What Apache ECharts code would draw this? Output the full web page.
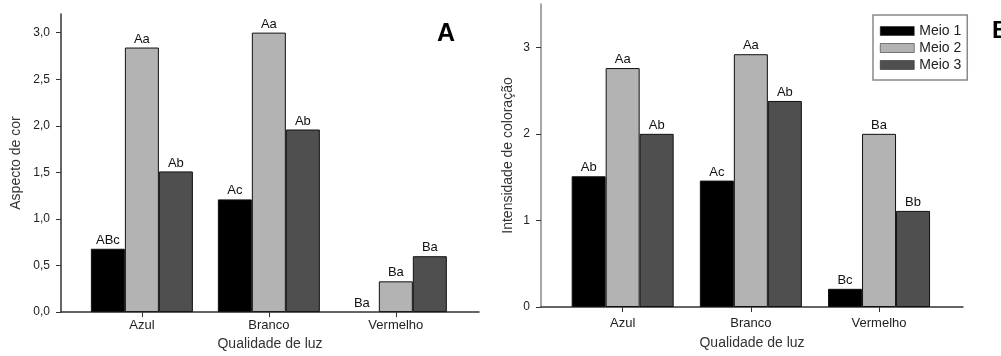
<!DOCTYPE html>
<html>
<head>
<meta charset="utf-8">
<script src="https://cdn.jsdelivr.net/npm/echarts@6/dist/echarts.min.js"></script>
<style>
  html, body { margin: 0; padding: 0; background: #fff; }
  #chart { width: 1001px; height: 356px; }
</style>
</head>
<body>
<div id="chart"></div>
<script>
// categories (light quality) and their positions on the x axis
var categories = ['Azul', 'Branco', 'Vermelho'];
var catPos = [1, 2, 3];
var seriesNames = ['Meio 1', 'Meio 2', 'Meio 3'];

// A: Aspecto de cor
var aMeio1 = [0.68, 1.21, 0];
var aMeio2 = [2.84, 3.0, 0.33];
var aMeio3 = [1.51, 1.96, 0.6];
var aLetters1 = ['ABc', 'Ac', 'Ba'];
var aLetters2 = ['Aa', 'Aa', 'Ba'];
var aLetters3 = ['Ab', 'Ab', 'Ba'];
var aTicks = [0, 0.5, 1, 1.5, 2, 2.5, 3];

// B: Intensidade de coloracao
var bMeio1 = [1.51, 1.46, 0.21];
var bMeio2 = [2.76, 2.92, 2.0];
var bMeio3 = [2.0, 2.38, 1.11];
var bLetters1 = ['Ab', 'Ac', 'Bc'];
var bLetters2 = ['Aa', 'Aa', 'Ba'];
var bLetters3 = ['Ab', 'Ab', 'Bb'];
var bTicks = [0, 1, 2, 3];

var colors = ['#000000', '#b3b3b3', '#4f4f4f'];
var font = '"Liberation Sans", Arial, sans-serif';

// zero-height bars get no outline (nothing drawn in the original)
var pairs = function (vals) {
    return vals.map(function (v, i) {
        var d = { value: [catPos[i], v] };
        if (v === 0) d.itemStyle = { borderWidth: 0 };
        return d;
    });
};

var makeBar = function (name, idx, vals, letters, axisIdx) {
    return {
        name: name,
        type: 'bar',
        xAxisIndex: axisIdx,
        yAxisIndex: axisIdx,
        barWidth: 34,
        barGap: '0%',
        data: pairs(vals),
        itemStyle: {
            color: colors[idx],
            borderColor: '#111',
            borderWidth: 1
        },
        label: {
            show: true,
            position: 'top',
            distance: 2,
            fontFamily: font,
            fontSize: 13,
            color: '#111',
            formatter: function (p) { return letters[p.dataIndex]; }
        }
    };
};

var xAxisOf = function (gridIdx, labelMargin, nameGap) {
    return {
        type: 'value',
        gridIndex: gridIdx,
        min: 0.363,
        max: 3.655,
        name: 'Qualidade de luz',
        nameLocation: 'middle',
        nameGap: nameGap,
        nameTextStyle: { fontFamily: font, fontSize: 14, color: '#333' },
        splitLine: { show: false },
        axisLine: { show: true, lineStyle: { color: '#333', width: 1.5 } },
        axisTick: { show: true, customValues: catPos, length: 5, lineStyle: { color: '#333' } },
        axisLabel: {
            customValues: catPos,
            margin: labelMargin,
            fontFamily: font,
            fontSize: 13,
            color: '#222',
            formatter: function (v) { return categories[catPos.indexOf(v)]; }
        }
    };
};

var yAxisOf = function (gridIdx, name, max, ticks, fmt, nameGap, lineColor) {
    return {
        type: 'value',
        gridIndex: gridIdx,
        min: 0,
        max: max,
        name: name,
        nameLocation: 'middle',
        nameGap: nameGap,
        nameTextStyle: { fontFamily: font, fontSize: 14, color: '#333' },
        splitLine: { show: false },
        axisLine: { show: true, lineStyle: { color: lineColor, width: 1.5 } },
        axisTick: { show: true, customValues: ticks, length: 5, lineStyle: { color: '#333' } },
        axisLabel: {
            customValues: ticks,
            margin: 11,
            fontFamily: font,
            fontSize: 12,
            color: '#222',
            formatter: fmt
        }
    };
};

var chart = echarts.init(document.getElementById('chart'));
chart.setOption({
    animation: false,
    title: [
        { text: 'A', left: 432, top: 17, textStyle: { fontFamily: font, fontSize: 25, fontWeight: 'bold', color: '#000' } },
        { text: 'B', left: 987, top: 14, textStyle: { fontFamily: font, fontSize: 24, fontWeight: 'bold', color: '#000' } }
    ],
    legend: {
        data: seriesNames,
        orient: 'vertical',
        left: 873,
        top: 15,
        itemWidth: 34,
        itemHeight: 9,
        itemGap: 3,
        padding: [9, 6, 8, 7],
        icon: 'rect',
        borderColor: '#888',
        borderWidth: 1.5,
        itemStyle: { borderColor: '#111', borderWidth: 0.5 },
        textStyle: { fontFamily: font, fontSize: 14, color: '#222' }
    },
    grid: [
        { left: 61, top: 14, width: 418, height: 300 },
        { left: 541, top: 4, width: 422, height: 303 }
    ],
    xAxis: [
        xAxisOf(0, 7, 24),
        xAxisOf(1, 10, 29)
    ],
    yAxis: [
        yAxisOf(0, 'Aspecto de cor', 3.2, aTicks,
            function (v) { return v.toFixed(1).replace('.', ','); }, 38, '#333'),
        yAxisOf(1, 'Intensidade de coloração', 3.5, bTicks,
            function (v) { return String(v); }, 26, '#888')
    ],
    series: [
        makeBar('Meio 1', 0, aMeio1, aLetters1, 0),
        makeBar('Meio 2', 1, aMeio2, aLetters2, 0),
        makeBar('Meio 3', 2, aMeio3, aLetters3, 0),
        makeBar('Meio 1', 0, bMeio1, bLetters1, 1),
        makeBar('Meio 2', 1, bMeio2, bLetters2, 1),
        makeBar('Meio 3', 2, bMeio3, bLetters3, 1)
    ]
});
</script>
</body>
</html>
